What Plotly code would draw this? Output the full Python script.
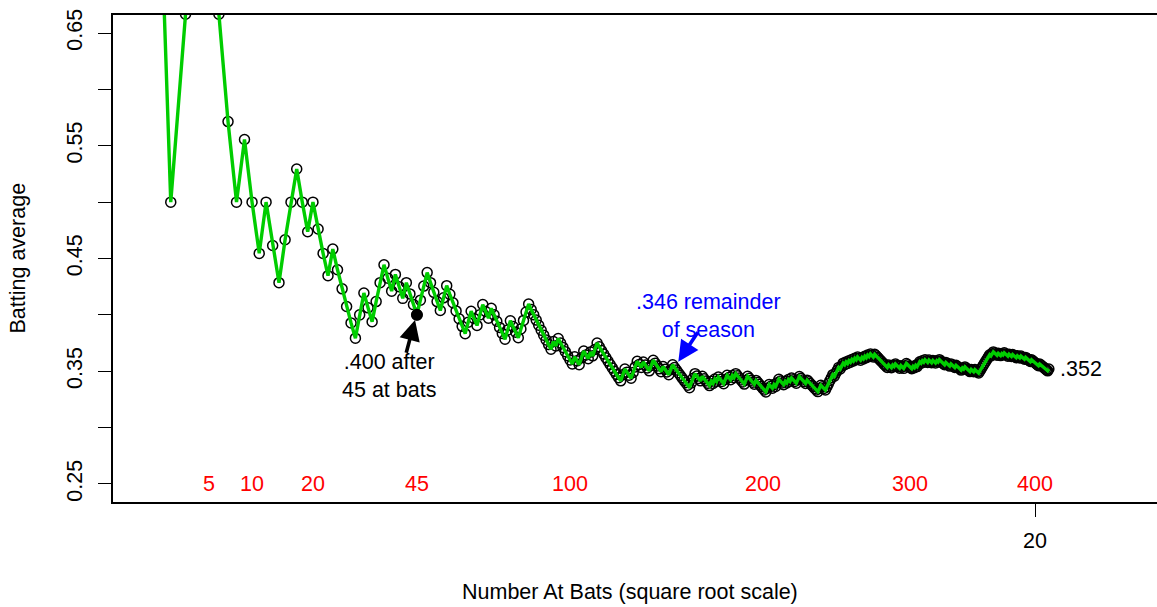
import numpy as np
import plotly.graph_objects as go

# ---- data: outcome of each at bat (1 = hit, 0 = out) ----
hit_blocks = [
    "1011100010", "0100111001", "0001000001", "1001110010", "01000",            # 1-45
    "11100", "0011000000", "1100110010", "0000110001", "1110000000", "00",       # 46-92
    "10100000", "0100110010", "1100000000", "0001100011", "1",                   # 93-131
    "001000110", "0001000110", "0000000011", "1000100001", "0101000110", "01010",  # 132-185
    "00001", "1000010000", "0011001011", "0001010100", "011",                    # 186-223
    "0000100", "0000011000", "1111101110", "1101010101", "0100101010",
    "1001000000", "0001001010",                                                  # 224-290
    "0010011000", "0101011010", "1001001001", "0100001000", "1000100001",
    "0100001001", "0001111111", "1101100010", "0101000100", "1000100100",
    "0100001000", "0001000000", "01",                                            # 291-412
]
at_bat_labels = [5, 10, 20, 45, 100, 200, 300, 400]
y_tick_vals = [0.25, 0.30, 0.35, 0.40, 0.45, 0.50, 0.55, 0.60, 0.65]
y_tick_text = ["0.25", "", "0.35", "", "0.45", "", "0.55", "", "0.65"]
x_tick_vals = [20]
x_tick_text = ["20"]
highlight_at_bats = 45
remainder_label = ".346 remainder<br>of season"
highlight_label = ".400 after<br>45 at bats"

hits = np.array([int(c) for c in "".join(hit_blocks)])
n = np.arange(1, len(hits) + 1)
avg = np.cumsum(hits) / n
x = np.sqrt(n)

FONT = "Liberation Sans, Arial, Helvetica, sans-serif"
FS = 21.5
GREEN = "#00CD00"

fig = go.Figure()
fig.add_trace(go.Scatter(
    x=x, y=avg, mode="markers",
    marker=dict(symbol="circle-open", size=10, color="black", line=dict(width=1.5, color="black")),
    hoverinfo="skip", showlegend=False))
fig.add_trace(go.Scatter(
    x=x, y=avg, mode="lines", line=dict(color=GREEN, width=3.4),
    hoverinfo="skip", showlegend=False))
hi = highlight_at_bats - 1
fig.add_trace(go.Scatter(
    x=[x[hi]], y=[avg[hi]], mode="markers",
    marker=dict(symbol="circle", size=12, color="black"),
    hoverinfo="skip", showlegend=False))

annotations = []
for c in at_bat_labels:
    annotations.append(dict(x=np.sqrt(c), y=0.25, xref="x", yref="y", text=str(c),
                            showarrow=False, font=dict(color="#FF0000", size=FS, family=FONT),
                            xanchor="center", yanchor="middle"))

# final average label
annotations.append(dict(x=x[-1], y=avg[-1], xref="x", yref="y",
                        text="." + f"{avg[-1]:.3f}".split(".")[1],
                        showarrow=False, xanchor="left", yanchor="middle", xshift=9,
                        font=dict(color="black", size=FS, family=FONT)))

# .400 after 45 at bats
annotations.append(dict(x=6.108, y=0.3462, xref="x", yref="y", text=highlight_label,
                        showarrow=False, xanchor="center", yanchor="middle",
                        font=dict(color="black", size=FS, family=FONT)))
annotations.append(dict(x=6.667, y=0.3955, ax=6.470, ay=0.3650, xref="x", yref="y",
                        axref="x", ayref="y", text="", showarrow=True,
                        arrowhead=2, arrowsize=1.15, arrowwidth=3.6, arrowcolor="black", standoff=0))

# .346 remainder of season
annotations.append(dict(x=12.968, y=0.3986, xref="x", yref="y", text=remainder_label,
                        showarrow=False, xanchor="center", yanchor="middle",
                        font=dict(color="#0000FF", size=FS, family=FONT)))
annotations.append(dict(x=12.329, y=0.3585, ax=12.770, ay=0.3860, xref="x", yref="y",
                        axref="x", ayref="y", text="", showarrow=True,
                        arrowhead=2, arrowsize=1.15, arrowwidth=3.6, arrowcolor="#0000FF", standoff=0))

# axis titles
annotations.append(dict(x=0.495, y=0, xref="paper", yref="paper", text="Number At Bats (square root scale)",
                        showarrow=False, xanchor="center", yanchor="middle", yshift=-90,
                        font=dict(color="black", size=FS, family=FONT)))
annotations.append(dict(x=0, y=0.5, xref="paper", yref="paper", text="Batting average",
                        showarrow=False, xanchor="center", yanchor="middle", xshift=-96, textangle=-90,
                        font=dict(color="black", size=FS, family=FONT)))

fig.update_layout(
    width=1157, height=607,
    margin=dict(l=113, r=0, t=15, b=105, pad=0),
    paper_bgcolor="white", plot_bgcolor="white",
    font=dict(family=FONT, size=FS, color="black"),
    showlegend=False,
    annotations=annotations,
    xaxis=dict(range=[(113 - 105) / 46.5, (1157 - 105) / 46.5],
               tickvals=x_tick_vals, ticktext=x_tick_text,
               ticks="outside", ticklen=13, tickwidth=1.3, tickcolor="black",
               showline=True, linecolor="black", linewidth=1.5, mirror=True,
               showgrid=False, zeroline=False, ticklabelstandoff=5,
               tickfont=dict(size=FS, family=FONT, color="black")),
    yaxis=dict(range=[0.234, 0.666],
               tickvals=y_tick_vals, ticktext=y_tick_text,
               ticks="outside", ticklen=13, tickwidth=1.3, tickcolor="black",
               showline=True, linecolor="black", linewidth=1.5, mirror=False,
               showgrid=False, zeroline=False, tickangle=-90, ticklabelstandoff=8,
               tickfont=dict(size=FS, family=FONT, color="black")),
)

fig.write_html("out.html")
